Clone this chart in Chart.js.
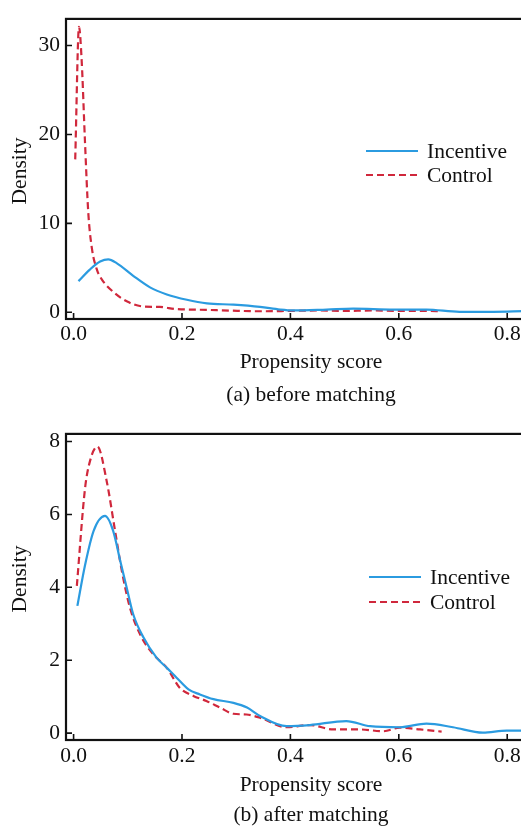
<!DOCTYPE html>
<html>
<head>
<meta charset="utf-8">
<script src="https://cdn.jsdelivr.net/npm/chart.js@4/dist/chart.umd.min.js"></script>
<style>
  html, body { margin: 0; padding: 0; background: #fff; overflow: hidden; }
  #wrap { position: relative; width: 521px; height: 828px; overflow: hidden; }
  .box { position: absolute; left: 0; width: 560px; }
</style>
</head>
<body>
<div id="wrap">
  <div class="box" style="top:0;height:415px"><canvas id="before"></canvas></div>
  <div class="box" style="top:415px;height:420px"><canvas id="after"></canvas></div>
</div>
<script>
// tick labels
const xTickValues = [0, 0.2, 0.4, 0.6, 0.8];
const yTicksBefore = [0, 10, 20, 30];
const yTicksAfter = [0, 2, 4, 6, 8];

// (a) before matching
const scoreBeforeIncentive = [0.009, 0.03, 0.049, 0.064, 0.08, 0.11, 0.141, 0.172, 0.209, 0.246, 0.295, 0.344, 0.381, 0.405, 0.467, 0.516, 0.59, 0.651, 0.712, 0.774, 0.83];
const densityBeforeIncentive = [3.5, 4.8, 5.7, 5.95, 5.5, 4.1, 2.8, 2.0, 1.4, 1.0, 0.85, 0.6, 0.3, 0.2, 0.3, 0.4, 0.3, 0.3, 0.05, 0.05, 0.12];
const scoreBeforeControl = [0.003, 0.01, 0.015, 0.021, 0.027, 0.0335, 0.043, 0.052, 0.073, 0.099, 0.128, 0.159, 0.19, 0.233, 0.29, 0.344, 0.4, 0.45, 0.5, 0.55, 0.6, 0.65, 0.679];
const densityBeforeControl = [17.2, 32.1, 28.2, 19.2, 11.3, 7.3, 4.8, 3.7, 2.3, 1.2, 0.65, 0.6, 0.35, 0.29, 0.18, 0.11, 0.15, 0.2, 0.15, 0.2, 0.15, 0.15, 0.1];

// (b) after matching
const scoreAfterIncentive = [0.007, 0.021, 0.037, 0.058, 0.073, 0.086, 0.098, 0.11, 0.129, 0.153, 0.172, 0.19, 0.212, 0.233, 0.258, 0.295, 0.32, 0.344, 0.393, 0.436, 0.503, 0.547, 0.602, 0.651, 0.70, 0.755, 0.799, 0.83];
const densityAfterIncentive = [3.49, 4.6, 5.55, 5.96, 5.55, 4.73, 3.99, 3.26, 2.62, 2.07, 1.79, 1.52, 1.2, 1.06, 0.93, 0.83, 0.70, 0.47, 0.19, 0.22, 0.33, 0.19, 0.16, 0.26, 0.16, 0.01, 0.07, 0.07];
const scoreAfterControl = [0.006, 0.021, 0.03, 0.044, 0.061, 0.0765, 0.089, 0.104, 0.1226, 0.147, 0.172, 0.196, 0.221, 0.245, 0.27, 0.2946, 0.319, 0.344, 0.393, 0.436, 0.479, 0.528, 0.571, 0.602, 0.639, 0.679];
const densityAfterControl = [4.04, 6.7, 7.45, 7.86, 6.92, 5.55, 4.45, 3.44, 2.71, 2.16, 1.79, 1.24, 1.02, 0.88, 0.70, 0.53, 0.51, 0.42, 0.16, 0.22, 0.10, 0.10, 0.05, 0.15, 0.10, 0.04];

const BLUE = '#2b9be0';
const RED = '#d0283c';
const INK = '#111';
const FONT = '"Liberation Serif", "Times New Roman", serif';

const pts = (xs, ys) => xs.map((x, i) => ({ x: x, y: ys[i] }));

// box frame + inward tick marks + y title + legend
const framePlugin = {
  id: 'frame',
  afterDraw(chart, args, opts) {
    const ctx = chart.ctx;
    const a = chart.chartArea;
    const xs = chart.scales.x, ys = chart.scales.y;
    ctx.save();
    ctx.strokeStyle = INK;
    ctx.lineWidth = 2.2;
    ctx.strokeRect(a.left, a.top, a.right - a.left, a.bottom - a.top);
    ctx.lineWidth = 1.6;
    ctx.beginPath();
    xs.ticks.forEach(t => {
      const px = xs.getPixelForValue(t.value);
      ctx.moveTo(px, a.bottom);
      ctx.lineTo(px, a.bottom - 6);
    });
    ys.ticks.forEach(t => {
      const py = ys.getPixelForValue(t.value);
      ctx.moveTo(a.left, py);
      ctx.lineTo(a.left + 6, py);
    });
    ctx.stroke();

    // y axis title
    ctx.fillStyle = INK;
    ctx.font = '21.5px ' + FONT;
    ctx.textAlign = 'center';
    ctx.textBaseline = 'middle';
    ctx.translate(opts.yTitleX, opts.yTitleY);
    ctx.rotate(-Math.PI / 2);
    ctx.fillText('Density', 0, 0);
    ctx.restore();

    // legend
    ctx.save();
    ctx.font = '21.5px ' + FONT;
    ctx.textAlign = 'left';
    ctx.textBaseline = 'middle';
    chart.data.datasets.forEach((ds, i) => {
      const y = opts.legendY + i * opts.legendGap;
      ctx.strokeStyle = ds.borderColor;
      ctx.lineWidth = ds.borderWidth;
      ctx.setLineDash(ds.borderDash || []);
      ctx.beginPath();
      ctx.moveTo(opts.legendX, y);
      ctx.lineTo(opts.legendX + 52, y);
      ctx.stroke();
      ctx.setLineDash([]);
      ctx.fillStyle = INK;
      ctx.fillText(ds.label, opts.legendX + 61, y + 1);
    });
    ctx.restore();
  }
};

function makeChart(id, incentive, control, yTicks, yMin, yMax, cfg) {
  return new Chart(document.getElementById(id), {
    type: 'line',
    data: {
      datasets: [
        { label: 'Incentive', data: incentive, borderColor: BLUE, borderWidth: 2.2, pointRadius: 0, cubicInterpolationMode: 'monotone', fill: false },
        { label: 'Control', data: control, borderColor: RED, borderWidth: 2.2, borderDash: [7, 4], pointRadius: 0, cubicInterpolationMode: 'monotone', fill: false }
      ]
    },
    options: {
      responsive: true,
      maintainAspectRatio: false,
      animation: false,
      layout: { padding: { left: 0, right: 4, top: cfg.padTop, bottom: cfg.padBottom } },
      scales: {
        x: {
          type: 'linear',
          min: -0.014,
          max: 0.89,
          afterBuildTicks: s => { s.ticks = xTickValues.map(v => ({ value: v })); },
          afterFit: s => { s.height = cfg.xHeight; },
          grid: { display: false, drawTicks: false },
          border: { display: false },
          ticks: {
            padding: cfg.xTickPad,
            color: INK,
            font: { family: FONT, size: 21.5 },
            callback: v => v.toFixed(1)
          },
          title: {
            display: true,
            text: ['Propensity score', cfg.caption],
            color: INK,
            font: { family: FONT, size: 21.5, lineHeight: cfg.titleLine / 21.5 },
            padding: 0
          }
        },
        y: {
          min: yMin,
          max: yMax,
          afterBuildTicks: s => { s.ticks = yTicks.map(v => ({ value: v })); },
          afterFit: s => { s.width = 66; },
          grid: { display: false, drawTicks: false },
          border: { display: false },
          ticks: {
            padding: 6,
            color: INK,
            font: { family: FONT, size: 21.5 }
          }
        }
      },
      plugins: {
        legend: { display: false },
        tooltip: { enabled: false },
        frame: cfg.frame
      }
    },
    plugins: [framePlugin]
  });
}

makeChart('before',
  pts(scoreBeforeIncentive, densityBeforeIncentive),
  pts(scoreBeforeControl, densityBeforeControl),
  yTicksBefore, -0.76, 33,
  {
    padTop: 6, padBottom: 3.5, xHeight: 92.5, xTickPad: 2.5, titleLine: 33,
    caption: '(a) before matching',
    frame: { yTitleX: 20, yTitleY: 171, legendX: 366, legendY: 151, legendGap: 24 }
  });

makeChart('after',
  pts(scoreAfterIncentive, densityAfterIncentive),
  pts(scoreAfterControl, densityAfterControl),
  yTicksAfter, -0.19, 8.21,
  {
    padTop: 18, padBottom: 5, xHeight: 90, xTickPad: 3, titleLine: 30,
    caption: '(b) after matching',
    frame: { yTitleX: 20, yTitleY: 164, legendX: 369, legendY: 162, legendGap: 25 }
  });
</script>
</body>
</html>
